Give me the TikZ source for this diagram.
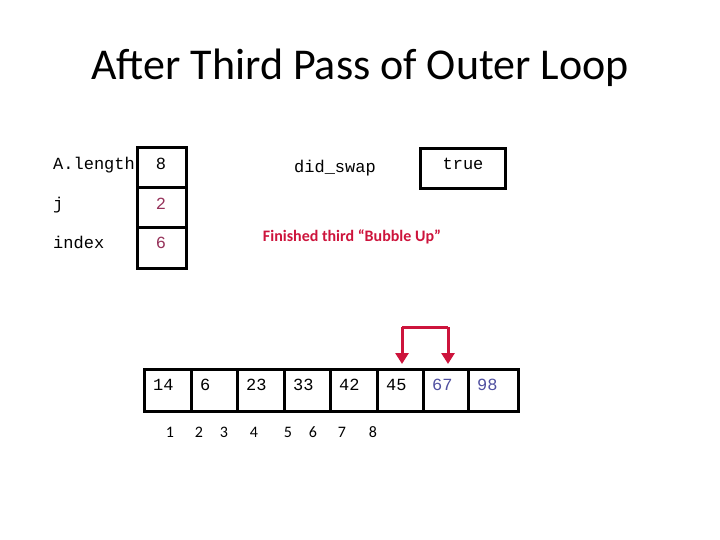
\documentclass[tikz,border=0pt]{standalone}
\usepackage{fontspec}
\setmainfont{Carlito}
\setmonofont{Liberation Mono}
\usetikzlibrary{arrows.meta}
\definecolor{swapred}{RGB}{205,20,60}
\definecolor{varred}{RGB}{150,50,90}
\definecolor{sortblue}{RGB}{80,80,160}
\begin{document}
\begin{tikzpicture}[x=1pt,y=-1pt,boxS/.style={draw=black,line width=3pt},monoS/.style={font=\ttfamily\fontsize{17}{17}\selectfont,anchor=base},idxS/.style={font=\fontsize{16}{16}\selectfont},arrS/.style={swapred,line width=3pt,-{Triangle[length=11pt,width=13pt]}}]
\useasboundingbox (0,0) rectangle (720,540);
\node[font=\fontsize{44}{44}\selectfont] (title) at (360,68) {After Third Pass of Outer Loop};

% variables
\draw[boxS] (137,148) rectangle (186,188);
\draw[boxS] (137,188) rectangle (186,228);
\draw[boxS] (137,228) rectangle (186,268);
\node[monoS,anchor=base west,inner sep=0pt] (lenL) at (53,170) {A.length};
\node[monoS] (lenV) at (161,170) {8};
\node[monoS,anchor=base west,inner sep=0pt] (jL) at (53,210) {j};
\node[monoS,varred] (jV) at (161,210) {2};
\node[monoS,anchor=base west,inner sep=0pt] (iL) at (53,248) {index};
\node[monoS,varred] (iV) at (161,248) {6};
\node[monoS] (swapL) at (335,173) {did\_swap};
\draw[boxS] (420,149) rectangle (505,189);
\node[monoS] (swapV) at (463,170) {true};
\node[swapred,font=\bfseries\fontsize{16}{16}\selectfont] (msg) at (352,237) {Finished third “Bubble Up”};

% array
\foreach \x/\v/\c [count=\i] in {144/14/black,191/6/black,237/23/black,284/33/black,330/42/black,377/45/black,423/67/sortblue,468/98/sortblue}
  \node[monoS,text=\c,anchor=base west,inner sep=0pt] (a\i) at (\x+9,390) {\v};
\draw[boxS] (144,369) rectangle (518,411);
\foreach \x in {191,237,284,330,377,423,468}
  \draw[line width=3pt] (\x,369) -- (\x,411);
\foreach \x/\n in {170/1,199/2,224/3,254/4,288/5,313/6,342/7,373/8}
  \node[idxS] (n\n) at (\x,432) {\n};

% swap arrows
\coordinate (sw1) at (402,327);
\coordinate (sw2) at (448,327);
\coordinate (tip1) at (402,364);
\coordinate (tip2) at (448,364);
\draw[swapred,line width=3pt] (sw1) -- (sw2);
\draw[arrS] (sw1) -- (tip1);
\draw[arrS] (sw2) -- (tip2);
\end{tikzpicture}
\end{document}
